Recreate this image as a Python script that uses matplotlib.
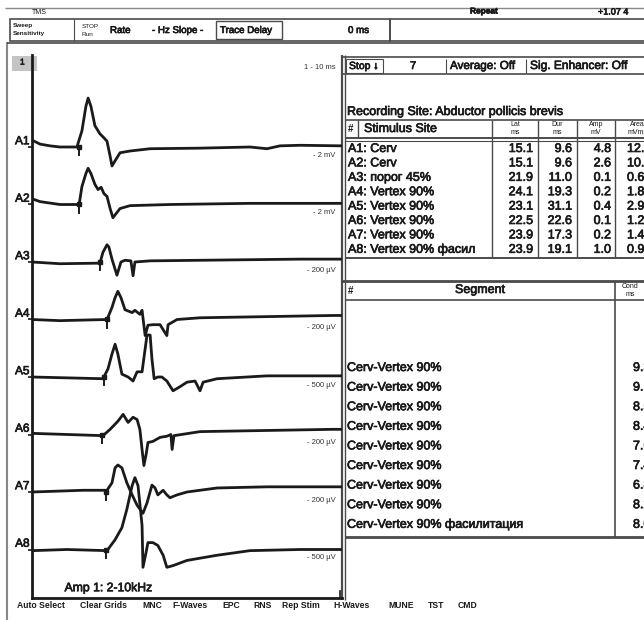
import matplotlib.pyplot as plt
import matplotlib.patheffects as pe
from matplotlib.patches import Rectangle

plt.rcParams['font.family'] = ['Liberation Sans', 'DejaVu Sans']

# waveform samples: time in ms, amplitude in display divisions
a1_t = [0, 2.6, 5.8, 9.0, 14.5, 16.1, 17.4, 18.1, 19.0, 20.3, 21.9, 23.2, 24.2, 25.2, 25.8, 26.8, 28.4, 31.6, 38.1, 54.2, 70.3, 75.8, 80.0, 86.5, 100]
a1_v = [0.12, 0.05, 0.02, 0.0, 0.0, 0.28, 0.71, 0.85, 0.71, 0.37, 0.23, 0.16, 0.10, -0.16, -0.33, -0.24, -0.10, -0.07, -0.03, -0.02, 0.0, -0.03, 0.02, 0.03, 0.02]
a2_t = [0, 2.6, 9.0, 15.2, 16.1, 17.4, 18.1, 19.0, 20.3, 21.3, 22.3, 23.2, 24.2, 25.2, 26.1, 27.1, 28.4, 31.6, 44.5, 70.3, 100]
a2_v = [0.10, 0.05, 0.0, 0.0, 0.31, 0.54, 0.63, 0.54, 0.35, 0.26, 0.30, 0.19, 0.14, -0.07, -0.23, -0.16, -0.07, -0.02, 0.0, 0.02, 0.02]
a3_t = [0, 9.0, 21.9, 22.9, 24.2, 24.8, 25.8, 27.4, 28.7, 30.0, 31.9, 32.6, 33.2, 38.1, 54.2, 86.5, 100]
a3_v = [0.0, -0.03, -0.02, 0.17, 0.30, 0.26, 0.05, -0.23, 0.0, 0.03, 0.02, -0.24, 0.0, 0.02, 0.03, 0.05, 0.05]
a4_t = [0, 9.0, 24.2, 25.8, 26.8, 27.7, 28.7, 30.0, 32.3, 33.2, 34.8, 35.5, 36.5, 37.4, 39.0, 41.3, 43.5, 43.9, 46.8, 54.2, 97.1, 100]
a4_v = [0.0, -0.02, 0.0, 0.21, 0.38, 0.49, 0.38, 0.17, 0.12, 0.16, 0.09, 0.16, -0.28, -0.10, -0.09, -0.09, -0.28, -0.09, 0.0, 0.03, 0.07, 0.07]
a5_t = [0, 22.9, 24.5, 25.8, 26.8, 27.7, 29.0, 31.0, 32.6, 33.9, 35.5, 36.5, 37.1, 38.1, 38.7, 39.4, 40.6, 41.9, 43.5, 45.5, 47.7, 50.0, 52.6, 54.2, 55.2, 59.7, 75.8, 100]
a5_v = [0.0, -0.03, 0.14, 0.40, 0.57, 0.40, 0.05, 0.0, -0.07, 0.09, 0.09, 0.49, 0.73, 0.73, 0.31, -0.03, 0.0, 0.0, -0.07, -0.24, -0.17, -0.09, -0.07, -0.24, -0.09, -0.03, 0.02, 0.02]
a6_t = [0, 22.9, 25.2, 27.7, 29.4, 31.0, 32.6, 33.9, 34.8, 35.5, 36.1, 36.8, 37.4, 39.0, 41.3, 43.5, 44.8, 45.2, 45.8, 54.2, 97.1, 100]
a6_v = [0.02, -0.02, 0.09, 0.23, 0.35, 0.21, 0.30, 0.26, 0.09, -0.26, -0.54, -0.35, -0.14, -0.12, -0.05, -0.03, 0.0, -0.26, -0.02, 0.05, 0.09, 0.09]
a7_t = [0, 16.5, 24.2, 25.8, 26.8, 27.7, 29.0, 30.6, 32.3, 33.9, 35.8, 37.1, 38.7, 39.7, 40.6, 42.3, 43.5, 44.5, 46.8, 50.0, 59.7, 75.8, 100]
a7_v = [0.0, 0.03, 0.03, 0.16, 0.42, 0.47, 0.42, 0.16, -0.05, -0.23, -0.37, -0.19, 0.12, 0.07, -0.05, 0.03, -0.05, -0.10, -0.05, 0.0, 0.07, 0.09, 0.09]
a8_t = [0, 11.3, 24.2, 26.8, 29.0, 30.6, 32.3, 33.2, 34.2, 35.5, 35.8, 36.8, 37.4, 39.0, 40.6, 42.3, 43.5, 45.5, 50.0, 59.7, 70.3, 86.5, 100]
a8_v = [-0.02, 0.0, -0.02, 0.17, 0.38, 0.70, 1.11, 1.25, 1.11, 0.42, -0.31, -0.05, 0.12, 0.12, 0.07, -0.10, -0.31, -0.28, -0.19, -0.10, -0.02, 0.0, 0.0]

trace_names = ['A1', 'A2', 'A3', 'A4', 'A5', 'A6', 'A7', 'A8']
sens_labels = ['2 mV', '2 mV', '200 µV', '200 µV', '500 µV', '200 µV', '200 µV', '500 µV']

stim_sites = ['A1: Cerv', 'A2: Cerv', 'A3: порог 45%', 'A4: Vertex 90%', 'A5: Vertex 90%',
              'A6: Vertex 90%', 'A7: Vertex 90%', 'A8: Vertex 90% фасил']
lat_ms = [15.1, 15.1, 21.9, 24.1, 23.1, 22.5, 23.9, 23.9]
dur_ms = [9.6, 9.6, 11.0, 19.3, 31.1, 22.6, 17.3, 19.1]
amp_mv = [4.8, 2.6, 0.1, 0.2, 0.4, 0.1, 0.2, 1.0]
area_mvms = [12.6, 10.4, 0.6, 1.8, 2.9, 1.2, 1.4, 0.9]

segments = ['Cerv-Vertex 90%'] * 8 + ['Cerv-Vertex 90% фасилитация']
cond_ms = [9.3, 9.1, 8.5, 8.4, 7.6, 7.4, 6.8, 8.2, 8.0]

status_items = ['Auto Select', 'Clear Grids', 'MNC', 'F-Waves', 'EPC', 'RNS', 'Rep Stim',
                'H-Waves', 'MUNE', 'TST', 'CMD']
status_x = [17, 80, 142, 172, 222, 253, 282, 333, 388, 428, 458]

traces = [(a1_t, a1_v), (a2_t, a2_v), (a3_t, a3_v), (a4_t, a4_v),
          (a5_t, a5_v), (a6_t, a6_v), (a7_t, a7_v), (a8_t, a8_v)]

ink = '#1a1a1a'
grid = '#4a4a4a'
heavy = [pe.withStroke(linewidth=0.5, foreground=ink)]
body = 9.0

fig = plt.figure(figsize=(6.44, 6.2), dpi=100)
fig.patch.set_facecolor('white')

# pixel-space layer for the window frame and tables
ui = fig.add_axes([0, 0, 1, 1])
ui.set_xlim(0, 644)
ui.set_ylim(620, 0)
ui.axis('off')


def hline(y, x0, x1, lw=1.2, c=grid):
    ui.plot([x0, x1], [y, y], color=c, lw=lw, solid_capstyle='butt')


def vline(x, y0, y1, lw=1.2, c=grid):
    ui.plot([x, x], [y0, y1], color=c, lw=lw, solid_capstyle='butt')


def txt(x, y, s, size=body, bold=True, **kw):
    kw.setdefault('color', ink)
    kw.setdefault('va', 'center')
    t = ui.text(x, y, s, fontsize=size, clip_on=True, **kw)
    if bold:
        t.set_path_effects(heavy)
    return t


# window frame
hline(8, 5, 644, lw=1.0, c='#888888')
vline(7, 42, 620, lw=1.5, c='#888888')
txt(32, 13, 'TMS', size=5, bold=False)
txt(470, 12, 'Repeat', size=6, fontweight='bold')
txt(598, 12, '+1.07 4', size=6.5)

# toolbar
ui.add_patch(Rectangle((10, 19), 380, 22, fill=False, ec=grid, lw=1.2))
ui.add_patch(Rectangle((390, 19), 260, 22, fill=False, ec=grid, lw=1.2))
txt(13, 26, 'Sweep', size=4.6, fontweight='bold', bold=False)
txt(13, 34, 'Sensitivity', size=4.6, fontweight='bold', bold=False)
vline(74, 19, 41, lw=0.8)
txt(82, 26, 'STOP', size=4.6, bold=False)
txt(82, 34, 'Run', size=4.6, bold=False)
txt(110, 30, 'Rate', size=7)
txt(152, 30, '- Hz Slope -', size=7)
ui.add_patch(Rectangle((216, 21), 66, 18, fill=False, ec=grid, lw=1.0))
txt(220, 30, 'Trace Delay', size=7)
txt(348, 30, '0 ms', size=7)
hline(43, 7, 644, lw=1.2)

# waveform panel
panel_top, panel_bot = 55, 598
div_px = 57.5
ax = fig.add_axes([32 / 644, (620 - panel_bot) / 620, 310 / 644, (panel_bot - panel_top) / 620])
ax.set_xlim(0, 100)
ax.set_ylim(0, (panel_bot - panel_top) / div_px)
ax.set_facecolor('none')
for s in ['top', 'right']:
    ax.spines[s].set_visible(False)
for s in ['left', 'bottom']:
    ax.spines[s].set_linewidth(2.0)
    ax.spines[s].set_color(ink)
ax.set_xticks([])

first_base = (panel_bot - 147) / div_px
bases = [first_base - i for i in range(len(traces))]
ax.set_yticks(bases)
ax.set_yticklabels([])
ax.tick_params(axis='y', length=3, width=1.2, color=ink)

for i, (t, v) in enumerate(traces):
    b = bases[i]
    ax.plot(t, [b + a for a in v], color=ink, lw=2.0, solid_joinstyle='round')
    ax.plot([lat_ms[i]], [b], 's', color=ink, ms=3.5)
    ax.plot([lat_ms[i], lat_ms[i]], [b, b - 0.14], color=ink, lw=1.4)
    lab = ax.text(-0.8, b + 0.1, trace_names[i], ha='right', va='center', fontsize=8.5,
                  color=ink, clip_on=False)
    lab.set_path_effects(heavy)
    ax.text(98, b - 0.14, '- ' + sens_labels[i], ha='right', va='center', fontsize=5.5,
            color='#333333')

ax.text(98, bases[0] + 1.38, '1 - 10 ms', ha='right', va='center', fontsize=5.5, color='#333333')
amp = ax.text(10.5, 0.17, 'Amp 1: 2-10kHz', ha='left', va='center', fontsize=8.8, color=ink)
amp.set_path_effects(heavy)
ax.plot([99.5, 99.5], [0, 0.12], color=ink, lw=1.2)
ui.add_patch(Rectangle((12, 56), 25, 15, fc='#c4c4c4', ec='none', zorder=0))
txt(20, 63, '1', size=6)

# status bar
for x, item in zip(status_x, status_items):
    txt(x, 606, item, size=6.2, fontweight='bold', bold=False)

# right-hand panel
vline(342, panel_top, 600, lw=1.6)
vline(345, panel_top, 600, lw=1.0)
hline(57, 342, 644)
ui.add_patch(Rectangle((346, 59), 37, 14, fill=False, ec=grid, lw=0.8))
txt(349, 66, 'Stop \u2193', size=7.5)
txt(410, 66, '7', size=8)
vline(446, 59, 73, lw=0.8)
txt(450, 66, 'Average: Off', size=8.4)
vline(526, 59, 73, lw=0.8)
txt(530, 66, 'Sig. Enhancer: Off', size=8.6)
hline(74, 342, 644)

txt(347, 112, 'Recording Site: Abductor pollicis brevis')

# stimulus table
t_top, t_head, t_bot = 120, 138, 258
col_x = [492, 538, 577, 615]
hline(t_top, 345, 644)
hline(t_head, 345, 644, lw=1.4)
hline(t_head + 2.5, 345, 644, lw=0.8)
hline(t_bot, 345, 644, lw=1.4)
for x in col_x:
    vline(x, t_top, t_bot, lw=1.0)
vline(358, t_top, t_head, lw=1.0)
txt(348, 129, '#', size=7, fontweight='bold', bold=False)
txt(364, 129, 'Stimulus Site')
heads = [('Lat', 'ms'), ('Dur', 'ms'), ('Amp', 'mV'), ('Area', 'mVms')]
for (h1, h2), x0, x1 in zip(heads, col_x, col_x[1:] + [660]):
    cx = (x0 + x1) / 2
    txt(cx, 125, h1, size=5, ha='center', bold=False)
    txt(cx, 133, h2, size=5, ha='center', bold=False)

row_y0, row_h = 149, 14.4
for i in range(len(stim_sites)):
    y = row_y0 + i * row_h
    txt(348, y, stim_sites[i])
    txt(533, y, f'{lat_ms[i]:.1f}', ha='right')
    txt(572, y, f'{dur_ms[i]:.1f}', ha='right')
    txt(611, y, f'{amp_mv[i]:.1f}', ha='right')
    txt(627, y, f'{area_mvms[i]:.1f}')

# segment table
s_top, s_head, s_bot = 281, 300, 537
hline(s_top, 342, 644, lw=2.0)
hline(s_head, 345, 644, lw=1.2)
hline(s_bot, 345, 644, lw=2.0)
vline(615, s_top, s_bot, lw=1.2)
txt(348, 291, '#', size=7, fontweight='bold', bold=False)
txt(480, 290, 'Segment', ha='center')
txt(630, 287, 'Cond', size=5, ha='center', bold=False)
txt(630, 295, 'ms', size=5, ha='center', bold=False)

seg_y0, seg_h = 368, 19.6
for i, seg in enumerate(segments):
    y = seg_y0 + i * seg_h
    txt(347, y, seg)
    txt(633, y, f'{cond_ms[i]:.1f}')

fig.savefig('out.png', dpi=100, facecolor='white')
